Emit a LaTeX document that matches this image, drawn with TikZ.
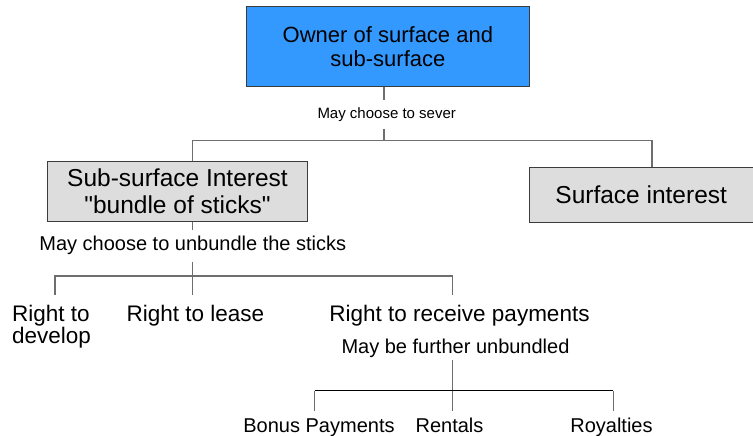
\documentclass[tikz,border=0pt]{standalone}
\usepackage{fontspec}
\setmainfont{Liberation Sans}
\usepackage{tikz}
\definecolor{ownerblue}{RGB}{51,153,255}
\definecolor{boxgray}{RGB}{221,221,221}
\definecolor{linkgray}{RGB}{110,110,110}
\definecolor{edgegray}{RGB}{60,60,60}
\newcommand\dq{\XeTeXglyph\XeTeXcharglyph"22\relax}
\begin{document}
\begin{tikzpicture}[x=1pt,y=1pt]
\tikzstyle{every node}+=[inner sep=0pt]
\tikzstyle{box}=[draw=edgegray,line width=0.9pt,align=center]
\tikzstyle{stick}=[font=\fontsize{22.5}{22}\selectfont,inner ysep=9.6pt]
\tikzstyle{pay}=[font=\fontsize{20}{22}\selectfont,inner ysep=7.3pt,anchor=base]
\tikzstyle{link}=[linkgray,line width=1.2pt]
\tikzstyle{bar}=[black,line width=0.8pt]
\useasboundingbox (0,0) rectangle (753,-436);
\node [box,fill=ownerblue,minimum width=282.6,minimum height=80.7,font=\fontsize{22}{24}\selectfont] (owner) at (387.9,-46.4) {Owner of surface and\\sub-surface};
\node [font=\fontsize{15}{17}\selectfont,inner ysep=7pt,anchor=base] (sever) at (386.7,-118.3) {May choose to sever};
\node [box,fill=boxgray,minimum width=260.4,minimum height=60.7,font=\fontsize{24.5}{26.6}\selectfont] (sub) at (177.5,-191.3) {Sub-surface Interest\\\dq bundle of sticks\dq};
\node [box,fill=boxgray,minimum width=223.7,minimum height=54.6,font=\fontsize{24.5}{26}\selectfont] (surface) at (641.2,-195) {Surface interest};
\node [font=\fontsize{20}{22}\selectfont,inner ysep=6.5pt,anchor=base] (unbundle) at (192.8,-250.7) {May choose to unbundle the sticks};
\node [stick,align=left,anchor=north west] (develop) at (12,-295) {Right to\\develop};
\node [stick,anchor=base] (lease) at (195.5,-321) {Right to lease};
\node [stick,anchor=base] (payments) at (459.5,-321) {Right to receive payments};
\node [font=\fontsize{20}{22}\selectfont,inner ysep=2.5pt,anchor=base] (further) at (455.5,-353.3) {May be further unbundled};
\node [pay] (bonus) at (319,-432.5) {Bonus Payments};
\node [pay] (rentals) at (449.5,-432.5) {Rentals};
\node [pay] (royalties) at (611.5,-432.5) {Royalties};
\coordinate (a1) at (384,-140.7);
\coordinate (a2) at (192.7,-140.7);
\coordinate (a3) at (652,-140.7);
\coordinate (b1) at (192.7,-276);
\coordinate (b2) at (55,-276);
\coordinate (b3) at (452.7,-276);
\coordinate (c1) at (452.7,-390.7);
\coordinate (c2) at (314.6,-390.7);
\coordinate (c3) at (613.3,-390.7);
\draw [link] (owner.south -| a1) -- (sever.north -| a1);
\draw [link] (sever.south -| a1) -- (a1);
\draw [link] (sub.north -| a2) -- (a2) -- (a3) -- (surface.north -| a3);
\draw [link] (sub.south -| b1) -- (unbundle.north -| b1);
\draw [link] (unbundle.south -| b1) -- (b1) -- (lease.north -| b1);
\draw [link] (develop.north -| b2) -- (b2) -- (b3) -- (payments.north -| b3);
\draw [link] (further.south -| c1) -- (c1) -- (rentals.north -| c1);
\draw [link] (bonus.north -| c2) -- (c2);
\draw [link] (royalties.north -| c3) -- (c3);
\draw [bar] (c2) -- (c3);
\end{tikzpicture}
\end{document}
